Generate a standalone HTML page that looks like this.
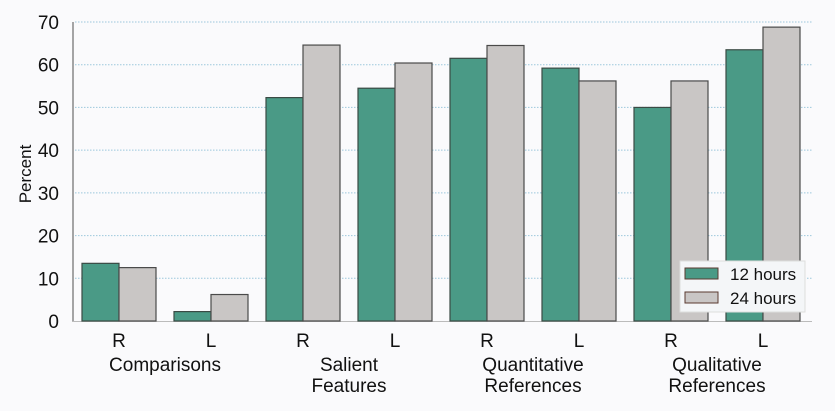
<!DOCTYPE html>
<html><head><meta charset="utf-8"><style>
body{margin:0;background:#fafafc;}
svg{display:block;font-family:"Liberation Sans",Arial,sans-serif;}
</style></head><body>
<svg id="chart" width="835" height="411"></svg>
<script>
const categories=["Comparisons","Salient Features","Quantitative References","Qualitative References"];
const sides=["R","L"];
const series12=[13.5,2.2,52.3,54.5,61.5,59.2,50,63.5];
const series24=[12.5,6.2,64.6,60.4,64.5,56.2,56.2,68.8];
const yTicks=[0,10,20,30,40,50,60,70];
const seriesNames=["12 hours","24 hours"];
const NS="http://www.w3.org/2000/svg";
const svg=document.getElementById('chart');
function mk(t,a,p){const e=document.createElementNS(NS,t);for(const k in a)e.setAttribute(k,a[k]);(p||svg).appendChild(e);return e;}
const y0=321,yTop=22,yMax=70;
function y(v){return y0-(v/yMax)*(y0-yTop);}
const x0=82,pitch=92,bw=37;
function xPair(i){return x0+pitch*i;}
yTicks.forEach(t=>{
 if(t>0){const g=mk('line',{x1:75,x2:812,y1:y(t),y2:y(t),stroke:'#9cc7dc','stroke-width':1,'stroke-dasharray':'1.5,1.5'});
 }
 const l=mk('text',{x:59,y:y(t)+7,'text-anchor':'end','font-size':19,fill:'#111'});l.textContent=t;
 
});
const ax=mk('line',{x1:73,x2:73,y1:22,y2:322,stroke:'#888','stroke-width':1.5});

const bx=mk('line',{x1:72,x2:812,y1:321.5,y2:321.5,stroke:'#bbb','stroke-width':1});

const yt=mk('text',{x:0,y:0,transform:'translate(31,174) rotate(-90)','text-anchor':'middle','font-size':17,fill:'#111'});yt.textContent='Percent';

series12.forEach((v,i)=>{
 const xs=xPair(i);
 const b1=mk('rect',{x:xs,y:y(v),width:bw,height:y0-y(v),fill:'#4a9a86',stroke:'#3a4a44','stroke-width':1.2});
 
 const v2=series24[i];
 const b2=mk('rect',{x:xs+bw,y:y(v2),width:bw,height:y0-y(v2),fill:'#c9c6c5',stroke:'#4a4a4a','stroke-width':1.2});
 
 const s=mk('text',{x:xs+bw,y:347,'text-anchor':'middle','font-size':19,fill:'#111'});s.textContent=sides[i%2];
 
});
categories.forEach((c,j)=>{
 const cx=(xPair(2*j)+bw+xPair(2*j+1)+bw)/2;
 const words=c.split(' ');
 words.forEach((w,k)=>{const t=mk('text',{x:cx,y:371+21*k,'text-anchor':'middle','font-size':19,fill:'#111'});t.textContent=w;
 });
});
const lg=mk('g',{});
mk('rect',{x:680,y:261,width:125,height:51,fill:'#f4f6f8',stroke:'#ddd'},lg);
const cols=['#4a9a86','#c9c6c5'];
seriesNames.forEach((n,k)=>{
 const e=mk('g',{},lg);
 mk('rect',{x:685,y:268+24*k,width:33,height:11,fill:cols[k],stroke:'#5a3a30'},e);
 const t=mk('text',{x:730,y:280+24*k,'font-size':17,fill:'#111'},e);t.textContent=n;
});
</script>
</body></html>
